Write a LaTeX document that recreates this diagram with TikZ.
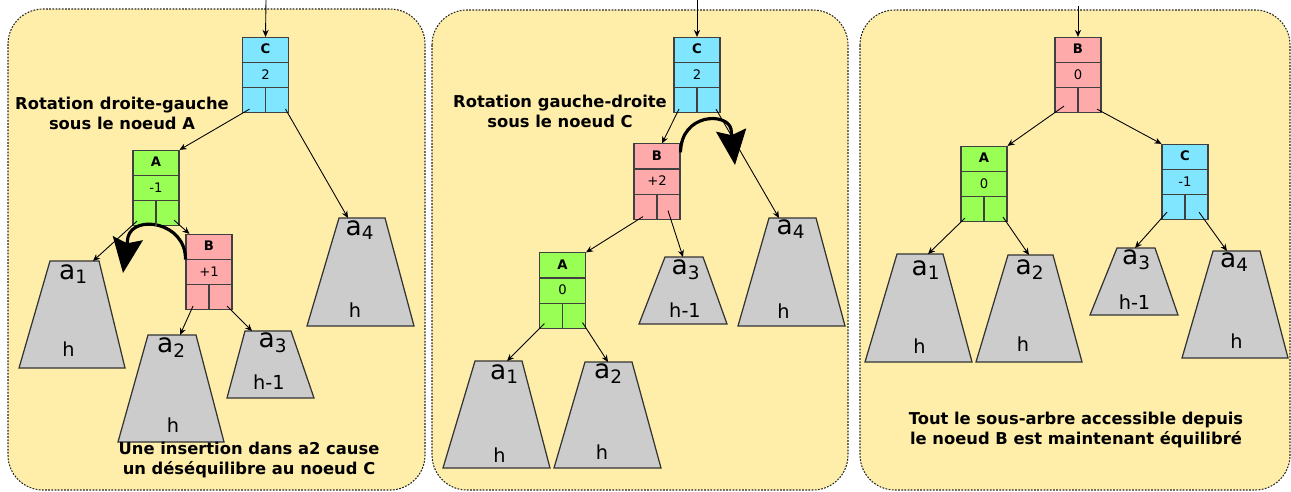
\documentclass[tikz,border=0pt]{standalone}
\usepackage{fontspec}
\setmainfont{DejaVu Sans}
\usepackage{tikz}
\usetikzlibrary{
  shapes.multipart,
  arrows.meta,
  calc
}
\definecolor{panelyellow}{HTML}{FFEEAA}
\definecolor{nodecyan}{HTML}{80E5FF}
\definecolor{nodegreen}{HTML}{99FF55}
\definecolor{nodepink}{HTML}{FFAAAA}
\definecolor{treegray}{HTML}{CCCCCC}
\newcommand{\rowstrut}{\rule[-0.16cm]{0pt}{0.48cm}}
\tikzset{
  panel/.style={draw=black!85, fill=panelyellow, rounded corners=0.7cm, dash pattern=on 1pt off 0.8pt, line width=0.6pt},
  record/.style={
    rectangle split, rectangle split parts=3, draw=black!75, fill=#1,
    minimum width=0.92cm, inner xsep=0pt, inner ysep=0pt,
    font=\fontsize{7.5}{9}\selectfont, line width=0.6pt
  },
  record/.default=nodecyan,
  cellline/.style={draw=black!75, line width=0.6pt},
  subtree/.style={draw=black!80, fill=treegray, line width=0.7pt},
  treename/.style={font=\fontsize{15}{15}\selectfont, inner sep=0pt},
  treeheight/.style={font=\fontsize{11}{11}\selectfont, inner sep=0pt},
  link/.style={-{Stealth[length=4pt, width=3.5pt]}, line width=0.5pt},
  turn/.style={-{Stealth[length=0.7cm, width=0.6cm, inset=0.1cm]}, line width=1.8pt},
  remark/.style={font=\fontsize{9.3}{11.3}\selectfont\bfseries, align=center},
}

\begin{document}
\begin{tikzpicture}[x=0.02cm, y=-0.02cm]
\useasboundingbox (0,0) rectangle (1291,491);

% Panels
\draw[panel] (8,9) rectangle (425,490);
\draw[panel] (432,10) rectangle (848,490);
\draw[panel] (860,10) rectangle (1290,490);

% Panel 1: imbalance at C
\node[record=nodecyan] (C1) at (265.5,75) {\textbf{C}\rowstrut\nodepart{two}2\rowstrut\nodepart{three}\rowstrut};
\node[record=nodegreen] (A1) at (156,188) {\textbf{A}\rowstrut\nodepart{two}-1\rowstrut\nodepart{three}\rowstrut};
\node[record=nodepink] (B1) at (209,272) {\textbf{B}\rowstrut\nodepart{two}+1\rowstrut\nodepart{three}\rowstrut};

\draw[subtree] (50,261) -- (99,261) -- (125,368) -- (19,368) -- cycle;
\draw[subtree] (148,335) -- (196,335) -- (224,442) -- (118,442) -- cycle;
\draw[subtree] (245,331) -- (291,331) -- (314,398) -- (227,398) -- cycle;
\draw[subtree] (339,218) -- (385,218) -- (414,326) -- (307,326) -- cycle;
\coordinate (P1a1in) at (93,261);
\coordinate (P1a2in) at (180,335);
\coordinate (P1a3in) at (252,331);
\coordinate (P1a4in) at (348,218);

\node[treename] (P1a1n) at (73.5,274) {a\textsubscript{1}};
\node[treename] (P1a2n) at (171.5,348) {a\textsubscript{2}};
\node[treename] (P1a3n) at (273,343) {a\textsubscript{3}};
\node[treename] (P1a4n) at (360,230) {a\textsubscript{4}};
\node[treeheight] (P1a1h) at (68.5,349.5) {h};
\node[treeheight] (P1a2h) at (173,425) {h};
\node[treeheight] (P1a3h) at (269,382) {h-1};
\node[treeheight] (P1a4h) at (355,310) {h};

\coordinate (P1top) at (266,0);
\draw[link] (P1top) -- (C1.north);
\draw[link] ($(C1.south)+(-16,-4)$) -- (A1.north east);
\draw[link] ($(C1.south)+(20,-4)$) -- (P1a4in);
\draw[link] ($(A1.south)+(-19,-5)$) -- (P1a1in);
\draw[link] ($(A1.south)+(18,-6)$) -- ($(B1.north west)+(4,0)$);
\draw[link] ($(B1.south)+(-16,-4)$) -- (P1a2in);
\draw[link] ($(B1.south)+(18,-4)$) -- (P1a3in);
\draw[turn] (B1.text split west) .. controls (186,222) and (134,214) .. (128,237) -- (123,273);

\node[remark] (P1title) at (122,113) {Rotation droite-gauche\\sous le noeud A};
\node[remark] (P1note) at (249,460) {Une insertion dans a2 cause\\un déséquilibre au noeud C};

% Panel 2: after the first rotation
\node[record=nodecyan] (C2) at (697,75) {\textbf{C}\rowstrut\nodepart{two}2\rowstrut\nodepart{three}\rowstrut};
\node[record=nodepink] (B2) at (657,181.5) {\textbf{B}\rowstrut\nodepart{two}+2\rowstrut\nodepart{three}\rowstrut};
\node[record=nodegreen] (A2) at (562.5,290.5) {\textbf{A}\rowstrut\nodepart{two}0\rowstrut\nodepart{three}\rowstrut};

\draw[subtree] (475,361) -- (522,361) -- (550,468) -- (443,468) -- cycle;
\draw[subtree] (585,362) -- (632,362) -- (661,468) -- (554,468) -- cycle;
\draw[subtree] (665,257) -- (703,257) -- (727,324) -- (639,324) -- cycle;
\draw[subtree] (769,218) -- (816,218) -- (845,326) -- (738,326) -- cycle;
\coordinate (P2a1in) at (507,361);
\coordinate (P2a2in) at (608,362);
\coordinate (P2a3in) at (683,257);
\coordinate (P2a4in) at (779,218);

\node[treename] (P2a1n) at (504.5,374) {a\textsubscript{1}};
\node[treename] (P2a2n) at (608.5,374) {a\textsubscript{2}};
\node[treename] (P2a3n) at (686,270) {a\textsubscript{3}};
\node[treename] (P2a4n) at (791,229) {a\textsubscript{4}};
\node[treeheight] (P2a1h) at (499.5,455) {h};
\node[treeheight] (P2a2h) at (602,452) {h};
\node[treeheight] (P2a3h) at (685,310) {h-1};
\node[treeheight] (P2a4h) at (783.5,311) {h};

\coordinate (P2top) at (697,0);
\draw[link] (P2top) -- (C2.north);
\draw[link] ($(C2.south)+(-18,-4)$) -- ($(B2.north)+(5,0)$);
\draw[link] ($(C2.south)+(19,-4)$) -- (P2a4in);
\draw[link] ($(B2.south)+(-14,-3)$) -- (A2.north east);
\draw[link] ($(B2.south)+(11,-9)$) -- (P2a3in);
\draw[link] ($(A2.south)+(-18,-5)$) -- (P2a1in);
\draw[link] ($(A2.south)+(20,-6)$) -- (P2a2in);
\draw[turn] ($(B2.north east)+(0,9)$) .. controls (681,113) and (727,112) .. (731,129) -- (735,165);

\node[remark] (P2title) at (560,111) {Rotation gauche-droite\\sous le noeud C};

% Panel 3: balanced subtree
\node[record=nodepink] (B3) at (1078,75) {\textbf{B}\rowstrut\nodepart{two}0\rowstrut\nodepart{three}\rowstrut};
\node[record=nodegreen] (A3) at (984,184) {\textbf{A}\rowstrut\nodepart{two}0\rowstrut\nodepart{three}\rowstrut};
\node[record=nodecyan] (C3) at (1185,182) {\textbf{C}\rowstrut\nodepart{two}-1\rowstrut\nodepart{three}\rowstrut};

\draw[subtree] (897,254) -- (943,254) -- (972,362) -- (865,362) -- cycle;
\draw[subtree] (1008,255) -- (1053,255) -- (1082,362) -- (976,362) -- cycle;
\draw[subtree] (1117,248) -- (1155,248) -- (1178,315) -- (1090,315) -- cycle;
\draw[subtree] (1213,251) -- (1260,251) -- (1288,358) -- (1182,358) -- cycle;
\coordinate (P3a1in) at (928,254);
\coordinate (P3a2in) at (1029,255);
\coordinate (P3a3in) at (1135,248);
\coordinate (P3a4in) at (1227,251);

\node[treename] (P3a1n) at (926,270) {a\textsubscript{1}};
\node[treename] (P3a2n) at (1030,270) {a\textsubscript{2}};
\node[treename] (P3a3n) at (1136.5,260) {a\textsubscript{3}};
\node[treename] (P3a4n) at (1234.5,262) {a\textsubscript{4}};
\node[treeheight] (P3a1h) at (919.5,346) {h};
\node[treeheight] (P3a2h) at (1023,344) {h};
\node[treeheight] (P3a3h) at (1134.5,302) {h-1};
\node[treeheight] (P3a4h) at (1236.5,341) {h};

\coordinate (P3top) at (1078,6);
\draw[link] (P3top) -- (B3.north);
\draw[link] ($(B3.south)+(-14,-7)$) -- (A3.north east);
\draw[link] ($(B3.south)+(19,-4)$) -- (C3.north west);
\draw[link] ($(A3.south)+(-19,-4)$) -- (P3a1in);
\draw[link] ($(A3.south)+(19,-5)$) -- (P3a2in);
\draw[link] ($(C3.south)+(-18,-8)$) -- (P3a3in);
\draw[link] ($(C3.south)+(14,-8)$) -- (P3a4in);

\node[remark] (P3note) at (1076,430) {Tout le sous-arbre accessible depuis\\le noeud B est maintenant équilibré};

% Split of the two child cells
\foreach \n in {C1,A1,B1,C2,B2,A2,B3,A3,C3}
  \draw[cellline] (\n.two split) -- (\n.south);

\end{tikzpicture}
\end{document}
